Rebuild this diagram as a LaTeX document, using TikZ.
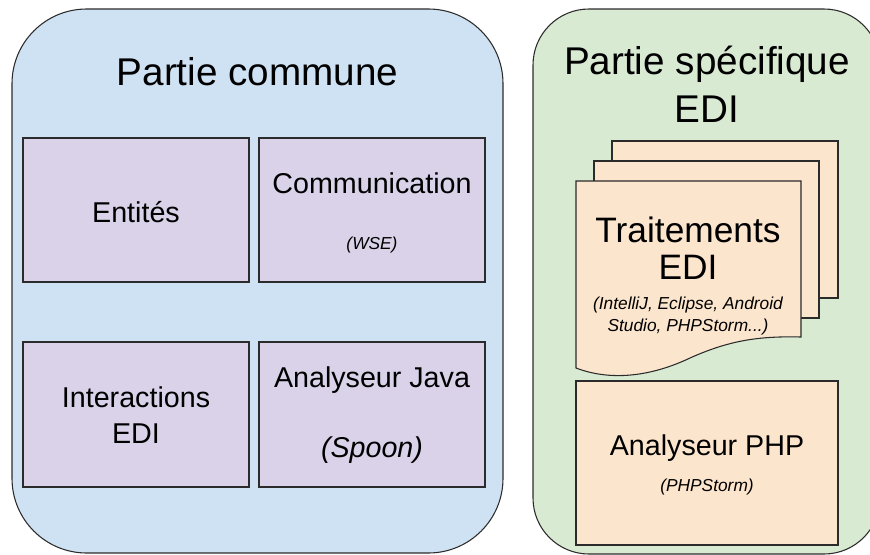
\documentclass[tikz,border=0pt]{standalone}
\usepackage{fontspec}
\setmainfont{Liberation Sans}
\definecolor{panelblue}{HTML}{CFE2F3}
\definecolor{panelgreen}{HTML}{D9EAD3}
\definecolor{boxpurple}{HTML}{D9D2E9}
\definecolor{boxorange}{HTML}{FCE5CD}
\definecolor{edge}{HTML}{2B2B2B}
\tikzset{
  panel/.style={draw=edge, line width=0.8pt},
  box/.style={draw=edge, line width=0.8pt},
  bigtitle/.style={font=\fontsize{29}{36}\selectfont, align=center, inner sep=0pt},
  boxtext/.style={font=\fontsize{21.5}{27}\selectfont, align=center, inner sep=0pt},
  smalltext/.style={font=\fontsize{13}{16.5}\selectfont\itshape, align=center, inner sep=0pt}
}
\begin{document}
\begin{tikzpicture}[x=0.75pt, y=-0.75pt]
\useasboundingbox (0,0) rectangle (870,554);
\begin{scope}
\clip (0,0) rectangle (870,554);
% panels
\draw[panel, fill=panelblue, rounded corners=56pt] (12,9) rectangle (503,553);
\draw[panel, fill=panelgreen, rounded corners=42pt] (533,9) rectangle (880,554);
\end{scope}
\node[bigtitle] (tcom) at (257.5,72) {Partie commune};
\node[bigtitle] (tspec) at (707,84) {Partie spécifique\\EDI};
% purple boxes
\draw[box, fill=boxpurple] (23,138) rectangle (249,282);
\draw[box, fill=boxpurple] (259,138) rectangle (485,282);
\draw[box, fill=boxpurple] (23,342) rectangle (249,487);
\draw[box, fill=boxpurple] (259,342) rectangle (485,487);
\node[boxtext] (ent) at (136,212) {Entités};
\node[boxtext] (comm) at (372,183) {Communication};
\node[smalltext] (wse) at (372,245) {(WSE)};
\node[boxtext] (inter) at (136,415) {Interactions\\EDI};
\node[boxtext] (java) at (372,380) {Analyseur Java};
\node[boxtext, font=\fontsize{21.5}{27}\selectfont\itshape] (spoon) at (372,450) {(Spoon)};
% stacked documents
\draw[box, fill=boxorange] (612,141) rectangle (838,298);
\draw[box, fill=boxorange] (594,161) rectangle (819,318);
\draw[box, fill=boxorange] (576,181) -- (801,181) -- (801,337)
  .. controls (760,336) and (730,340) .. (690,358)
  .. controls (650,377) and (610,381) .. (576,368) -- cycle;
\node[boxtext, font=\fontsize{26.5}{28}\selectfont] (trait) at (688,248) {Traitements\\EDI};
\node[smalltext] (ides) at (688,316) {(IntelliJ, Eclipse, Android\\Studio, PHPStorm...)};
% PHP analyser
\draw[box, fill=boxorange] (576,381) rectangle (838,545);
\node[boxtext] (php) at (707,448) {Analyseur PHP};
\node[smalltext] (phps) at (707,487) {(PHPStorm)};
\end{tikzpicture}
\end{document}
